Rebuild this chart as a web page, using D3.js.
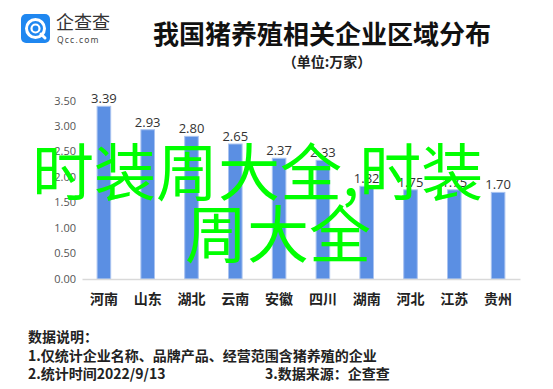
<!DOCTYPE html>
<html>
<head>
<meta charset="utf-8">
<script src="https://cdn.jsdelivr.net/npm/d3@7"></script>
<style>
  body { margin: 0; background: #fff; }
  svg { display: block; font-family: "Noto Sans CJK SC", "Noto Sans", sans-serif; }
</style>
</head>
<body>
<svg id="chart"></svg>
<script>
// data
var provinces = ["河南", "山东", "湖北", "云南", "安徽", "四川", "湖南", "河北", "江苏", "贵州"];
var counts = [3.39, 2.93, 2.80, 2.65, 2.37, 2.33, 1.82, 1.75, 1.75, 1.70];
var yTicks = [0, 0.5, 1, 1.5, 2, 2.5, 3, 3.5];
var title = "我国猪养殖相关企业区域分布";
var subtitle = "（单位:万家）";
var notes = ["数据说明：", "1.仅统计企业名称、品牌产品、经营范围含猪养殖的企业", "2.统计时间2022/9/13"];
var source = "3.数据来源：企查查";
var watermark = ["时装周大全,时装", "周大全"];

var W = 553, H = 389;
var margin = {top: 100, right: 33, bottom: 110, left: 82};
var svg = d3.select("#chart").attr("width", W).attr("height", H);

var data = provinces.map(function(p, i){ return {name: p, value: counts[i]}; });

var x = d3.scaleBand().domain(provinces)
  .range([margin.left, W - margin.right])
  .paddingInner(0.69).paddingOuter(0.345);
var y = d3.scaleLinear().domain([0, 3.5]).range([279, 100.7]);

// logo
var logo = svg.append("g");
logo.append("rect").attr("x", 21).attr("y", 14).attr("width", 29).attr("height", 29)
  .attr("rx", 5).attr("fill", "#1f87f0");
logo.append("circle").attr("cx", 35.5).attr("cy", 28.5).attr("r", 9)
  .attr("fill", "none").attr("stroke", "#fff").attr("stroke-width", 3);
logo.append("circle").attr("cx", 35.5).attr("cy", 28.5).attr("r", 4)
  .attr("fill", "none").attr("stroke", "#fff").attr("stroke-width", 2.2);
logo.append("line").attr("x1", 41).attr("y1", 34).attr("x2", 45).attr("y2", 38)
  .attr("stroke", "#fff").attr("stroke-width", 3).attr("stroke-linecap", "round");
logo.append("text").attr("x", 56).attr("y", 29).text("企查查")
  .style("font-size", "18px").style("fill", "#333");
logo.append("text").attr("x", 57).attr("y", 43).text("Qcc.com")
  .style("font-size", "8.5px").style("letter-spacing", "1.2px").style("fill", "#444")
  .style("font-family", "Noto Sans, sans-serif");

// titles
svg.append("text").attr("x", 322).attr("y", 44).attr("text-anchor", "middle")
  .text(title).style("font-size", "26px").style("font-weight", "bold").style("fill", "#111");
svg.append("text").attr("x", 327).attr("y", 67).attr("text-anchor", "middle")
  .text(subtitle).style("font-size", "14px").style("font-weight", "bold").style("fill", "#222");

// y tick labels (no axis line)
svg.append("g").selectAll("text").data(yTicks).join("text")
  .attr("x", 76).attr("y", function(d){ return y(d); })
  .attr("dy", "0.35em").attr("text-anchor", "end")
  .text(function(d){ return d3.format(".2f")(d); })
  .style("font-size", "11px").style("fill", "#555")
  .style("font-family", "Open Sans, Noto Sans, sans-serif");

// bars
svg.append("g").selectAll("rect").data(data).join("rect")
  .attr("x", function(d){ return x(d.name); })
  .attr("y", function(d){ return y(d.value); })
  .attr("width", x.bandwidth())
  .attr("height", function(d){ return y(0) - y(d.value); })
  .attr("fill", "#5b8fe3").attr("stroke", "#a9c3f0").attr("stroke-width", 1);

// value labels
svg.append("g").selectAll("text").data(data).join("text")
  .attr("x", function(d){ return x(d.name) + x.bandwidth() / 2; })
  .attr("y", function(d){ return y(d.value) - 3; })
  .attr("text-anchor", "middle")
  .text(function(d){ return d3.format(".2f")(d.value); })
  .style("font-size", "13px").style("fill", "#333")
  .style("font-family", "Open Sans, Noto Sans, sans-serif");

// x axis
var xAxis = svg.append("g").attr("transform", "translate(0," + y(0) + ")")
  .call(d3.axisBottom(x).tickSize(0).tickPadding(15));
xAxis.select(".domain").attr("stroke", "#d9d9d9").attr("stroke-width", 1.5);
xAxis.selectAll(".tick text")
  .style("font-size", "14px").style("font-weight", "bold").style("fill", "#222")
  .style("font-family", "Noto Sans CJK SC, sans-serif");

// notes
svg.append("g").selectAll("text").data(notes).join("text")
  .attr("x", 28).attr("y", function(d, i){ return 342 + i * 18.5; })
  .text(function(d){ return d; })
  .style("font-size", "14px").style("font-weight", "bold").style("fill", "#222");
svg.append("text").attr("x", 265).attr("y", 379).text(source)
  .style("font-size", "14px").style("font-weight", "bold").style("fill", "#222");

// green overlay text
svg.append("g").selectAll("text").data(watermark).join("text")
  .attr("x", function(d, i){ return i == 0 ? 32 : 185; })
  .attr("y", function(d, i){ return 169 + i * 62; })
  .attr("dominant-baseline", "central")
  .text(function(d){ return d; })
  .style("font-size", "62px").style("fill", "#00ff00");
</script>
</body>
</html>
